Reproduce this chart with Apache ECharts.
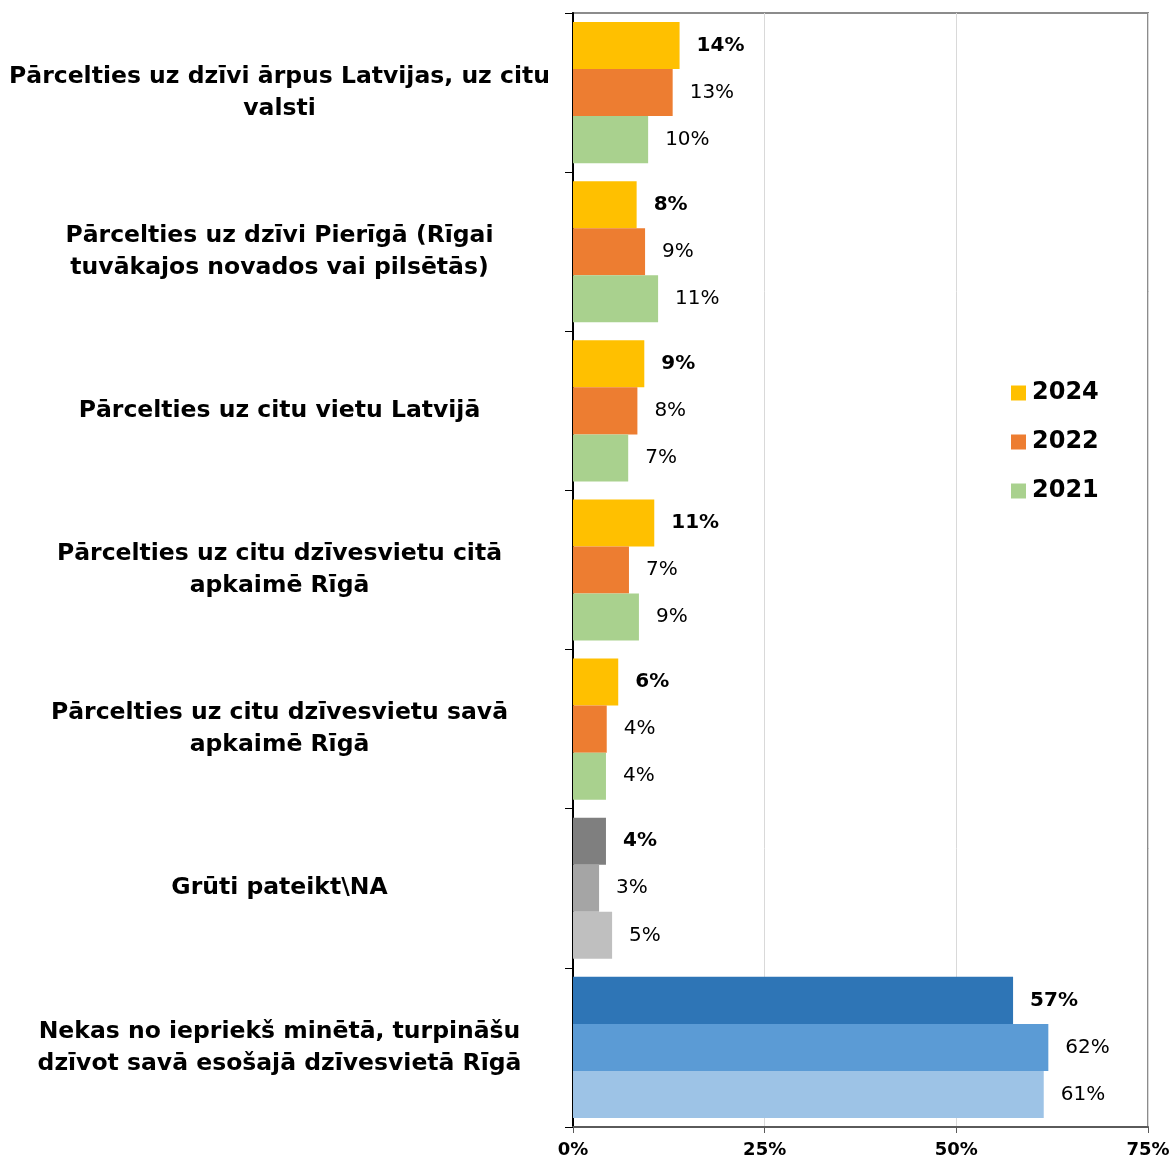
<!DOCTYPE html>
<html>
<head>
<meta charset="utf-8">
<script src="https://cdn.jsdelivr.net/npm/echarts@6/dist/echarts.min.js"></script>
<style>html,body{margin:0;padding:0;background:#fff}#c{width:1174px;height:1162px}</style>
</head>
<body>
<div id="c"></div>
<script>
const categories = [
  "Pārcelties uz dzīvi ārpus Latvijas, uz citu\nvalsti",
  "Pārcelties uz dzīvi Pierīgā (Rīgai\ntuvākajos novados vai pilsētās)",
  "Pārcelties uz citu vietu Latvijā",
  "Pārcelties uz citu dzīvesvietu citā\napkaimē Rīgā",
  "Pārcelties uz citu dzīvesvietu savā\napkaimē Rīgā",
  "Grūti pateikt\\NA",
  "Nekas no iepriekš minētā, turpināšu\ndzīvot savā esošajā dzīvesvietā Rīgā"
];
const seriesNames = ["2024", "2022", "2021"];
const values2024 = [13.9, 8.3, 9.3, 10.6, 5.9, 4.3, 57.4];
const values2022 = [13.0, 9.4, 8.4, 7.3, 4.4, 3.4, 62.0];
const values2021 = [9.8, 11.1, 7.2, 8.6, 4.3, 5.1, 61.4];
const xTicks = [0, 25, 50, 75];

const baseColors = ["#FFC000", "#ED7D31", "#A9D18E"];
const greyColors = ["#7F7F7F", "#A5A5A5", "#BFBFBF"];
const blueColors = ["#2E75B6", "#5B9BD5", "#9DC3E6"];
const allValues = [values2024, values2022, values2021];
const FONT = "'DejaVu Sans', 'Liberation Sans', Arial, sans-serif";

const series = seriesNames.map((name, si) => ({
  name: name,
  type: 'bar',
  barGap: '0%',
  barCategoryGap: '11.3%',
  itemStyle: { color: baseColors[si] },
  label: {
    show: true,
    position: 'right',
    distance: 17,
    fontFamily: FONT,
    fontSize: 20,
    fontWeight: si === 0 ? 'bold' : 'normal',
    color: '#000',
    formatter: p => Math.round(p.value) + '%'
  },
  data: allValues[si].map((v, ci) => {
    if (ci === 5) return { value: v, itemStyle: { color: greyColors[si] } };
    if (ci === 6) return { value: v, itemStyle: { color: blueColors[si] } };
    return v;
  })
}));

const chart = echarts.init(document.getElementById('c'), null, { renderer: 'canvas' });
chart.setOption({
  animation: false,
  backgroundColor: '#fff',
  grid: {
    left: 573, right: 26, top: 13, bottom: 35,
    show: true, borderColor: '#8c8c8c', borderWidth: 2, containLabel: false
  },
  legend: {
    orient: 'vertical',
    left: 1006,
    top: 376,
    itemWidth: 15,
    itemHeight: 15,
    itemGap: 25,
    icon: 'rect',
    data: seriesNames,
    textStyle: { fontFamily: FONT, fontSize: 24, fontWeight: 'bold', color: '#000', padding: [0, 0, 0, 1] }
  },
  xAxis: {
    type: 'value',
    min: xTicks[0],
    max: xTicks[xTicks.length - 1],
    interval: 25,
    axisLine: { show: true, lineStyle: { color: '#5a5a5a', width: 2 } },
    axisTick: { show: true, length: 6, lineStyle: { color: '#5a5a5a', width: 1 } },
    splitLine: { show: true, lineStyle: { color: '#d9d9d9', width: 1 } },
    axisLabel: {
      margin: 14,
      fontFamily: FONT, fontSize: 18, fontWeight: 'bold', color: '#000',
      formatter: v => v + '%'
    }
  },
  yAxis: {
    type: 'category',
    inverse: true,
    data: categories,
    axisLine: { show: true, lineStyle: { color: '#000', width: 2 } },
    axisTick: { show: true, length: 8, lineStyle: { color: '#000', width: 1 } },
    axisLabel: {
      margin: 24,
      fontFamily: FONT, fontSize: 23.5, fontWeight: 'bold', color: '#000',
      lineHeight: 32,
      formatter: v => v.split('\n').map(l => '{a|' + l + '}').join('\n'),
      rich: {
        a: { width: 539, align: 'center', fontFamily: FONT, fontSize: 23.5, fontWeight: 'bold', color: '#000', lineHeight: 32 }
      }
    }
  },
  series: series
});
</script>
</body>
</html>
